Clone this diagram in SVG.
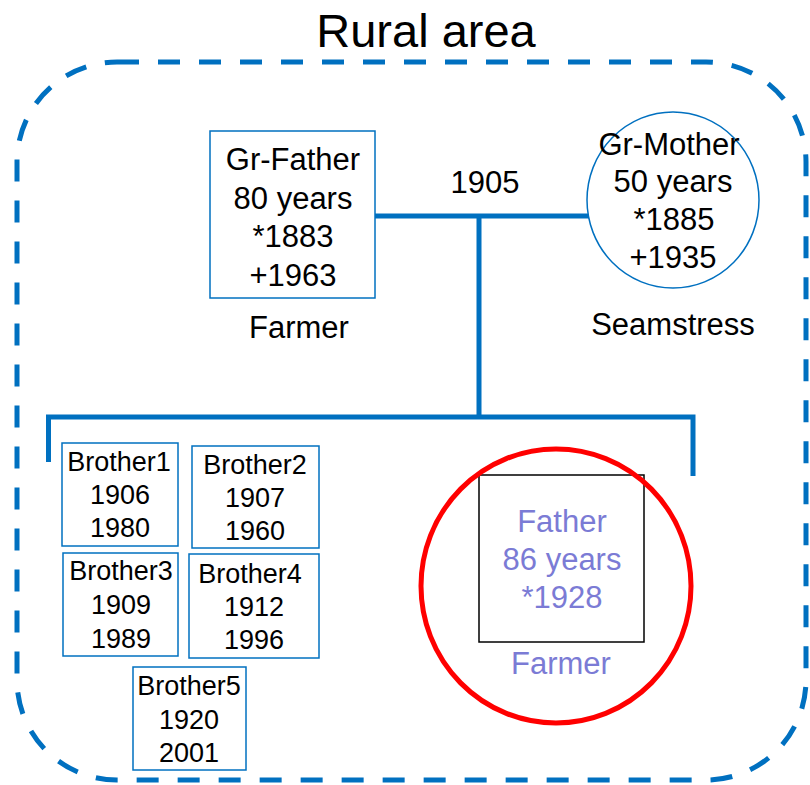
<svg xmlns="http://www.w3.org/2000/svg" width="810" height="785" viewBox="0 0 810 785">
  <style>
    text { font-family: "Liberation Sans", Arial, sans-serif; text-anchor: middle; fill: #000; }
    .big { font-size: 31px; }
    .small { font-size: 27px; }
    .title { font-size: 47px; }
    .father { fill: #7B7BD5; }
    .box { fill: #fff; stroke: #0070C0; stroke-width: 1.5; }
    .link { fill: none; stroke: #0070C0; stroke-width: 5; }
  </style>
  <rect width="810" height="785" fill="#fff"/>

  <!-- area boundary -->
  <g id="area">
    <text class="title" x="426" y="47">Rural area</text>
    <rect x="17" y="62" width="789" height="718" rx="100" ry="100" fill="none" stroke="#0070C0" stroke-width="5" stroke-dasharray="22 19"/>
  </g>

  <!-- connectors -->
  <g id="connectors">
    <line class="link" x1="371" y1="216" x2="589" y2="216"/>
    <line class="link" x1="479" y1="216" x2="479" y2="417"/>
    <polyline class="link" points="48.5,462 48.5,417 693,417 693,476"/>
    <text class="big" x="485" y="193">1905</text>
  </g>

  <g id="grandfather">
    <rect class="box" x="210" y="131" width="165" height="167"/>
    <text class="big" x="293" y="170">Gr-Father</text>
    <text class="big" x="293" y="209">80 years</text>
    <text class="big" x="293" y="247">*1883</text>
    <text class="big" x="293" y="286">+1963</text>
    <text class="big" x="299" y="338">Farmer</text>
  </g>

  <g id="grandmother">
    <ellipse class="box" cx="673" cy="200" rx="86" ry="88"/>
    <text class="big" x="669" y="155">Gr-Mother</text>
    <text class="big" x="673" y="192">50 years</text>
    <text class="big" x="674" y="230">*1885</text>
    <text class="big" x="673" y="268">+1935</text>
    <text class="big" x="673" y="335">Seamstress</text>
  </g>

  <g id="brother1">
    <rect class="box" x="62" y="443" width="116" height="103"/>
    <text class="small" x="119" y="471">Brother1</text>
    <text class="small" x="120" y="504">1906</text>
    <text class="small" x="120" y="537">1980</text>
  </g>
  <g id="brother2">
    <rect class="box" x="192" y="446" width="127" height="102"/>
    <text class="small" x="255" y="474">Brother2</text>
    <text class="small" x="255" y="507">1907</text>
    <text class="small" x="255" y="540">1960</text>
  </g>
  <g id="brother3">
    <rect class="box" x="63" y="553" width="115" height="103"/>
    <text class="small" x="121" y="580">Brother3</text>
    <text class="small" x="121" y="614">1909</text>
    <text class="small" x="121" y="648">1989</text>
  </g>
  <g id="brother4">
    <rect class="box" x="189" y="554" width="130" height="104"/>
    <text class="small" x="250" y="583">Brother4</text>
    <text class="small" x="254" y="616">1912</text>
    <text class="small" x="254" y="649">1996</text>
  </g>
  <g id="brother5">
    <rect class="box" x="133" y="667" width="113" height="103"/>
    <text class="small" x="189" y="695">Brother5</text>
    <text class="small" x="189" y="729">1920</text>
    <text class="small" x="189" y="762">2001</text>
  </g>

  <g id="father">
    <rect x="479" y="475" width="165" height="167" fill="#fff" stroke="#000" stroke-width="1.5"/>
    <text class="big father" x="562" y="532">Father</text>
    <text class="big father" x="562" y="570">86 years</text>
    <text class="big father" x="562" y="608">*1928</text>
    <text class="big father" x="561" y="674">Farmer</text>
    <ellipse cx="556" cy="586" rx="135" ry="137" fill="none" stroke="#FF0000" stroke-width="5"/>
  </g>
</svg>
